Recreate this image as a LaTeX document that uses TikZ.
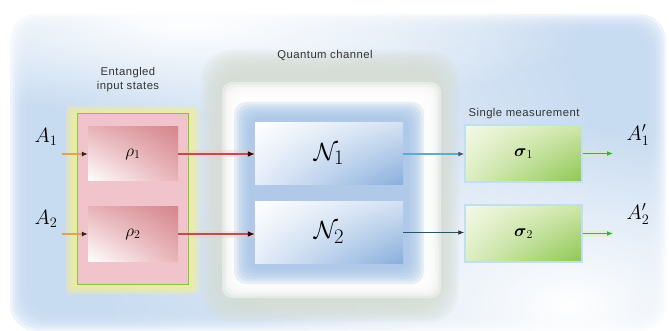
\documentclass[tikz,border=0pt]{standalone}
\usepackage{amsmath}
\usepackage{fontspec}
\newfontfamily\lblfont[LetterSpace=4]{Liberation Sans}
\usetikzlibrary{arrows.meta,shadings,fadings}
\definecolor{bgblue}{HTML}{C4DAF1}
\definecolor{qcgrey}{HTML}{D6DDD4}
\definecolor{nglow}{HTML}{A6C4E8}
\definecolor{yglow}{HTML}{F2EE9A}
\definecolor{pinkbg}{HTML}{F0C4CA}
\definecolor{gline}{HTML}{86C24E}
\definecolor{txt}{HTML}{333333}
\definecolor{rhoA}{HTML}{D4868D}
\definecolor{rhoB}{HTML}{E8B4B8}
\definecolor{nA}{HTML}{88AEDC}
\definecolor{nB}{HTML}{D2E1F3}
\definecolor{sA}{HTML}{8CC650}
\definecolor{sB}{HTML}{CFE6A8}
\definecolor{sC}{HTML}{F4F9E8}
\tikzfading[name=radfade, inner color=transparent!0, outer color=transparent!100]
\newcommand\softglow[8]{%
  \foreach \k in {0,...,#6}{%
    \fill[#5, opacity=#8, rounded corners=#7] ({#1+\k*2.5},{#2+\k*2.5}) rectangle ({#3-\k*2.5},{#4-\k*2.5});}}
\begin{document}
\begin{tikzpicture}[x=1pt,y=-1pt,
  rhobox/.style={minimum width=90pt, minimum height=54pt, inner sep=0pt,
    upper left=rhoB, upper right=rhoA, lower left=white, lower right=rhoB},
  nbox/.style={minimum width=148pt, minimum height=62pt, inner sep=0pt,
    upper left=white, upper right=nB, lower left=nB!60!white, lower right=nA},
  sbox/.style={minimum width=117pt, minimum height=57pt, inner sep=0pt, draw={rgb,255:red,192;green,224;blue,238}, line width=1.5pt,
    upper left=sC, upper right=sB, lower left=sB!70!white, lower right=sA},
  lbl/.style={text=txt, font=\lblfont\fontsize{11.3}{14}\selectfont, align=center},
  mathlbl/.style={font=\fontsize{22}{24}\selectfont},
  inarrow/.style={draw={rgb,255:red,230;green,160;blue,80}, line width=1.6pt, -{Latex[length=6pt,width=5pt,color=black!85]}},
  rnarrow/.style={draw={rgb,255:red,185;green,80;blue,80}, line width=2.2pt, -{Latex[length=7pt,width=6pt,color=black!80!red]}},
  ns1arrow/.style={draw={rgb,255:red,90;green,172;blue,208}, line width=1.8pt, -{Latex[length=6pt,width=5pt,color=black!70!cyan]}},
  ns2arrow/.style={draw={rgb,255:red,40;green,85;blue,100}, line width=1.6pt, -{Latex[length=6pt,width=5pt,color=black!90!cyan]}},
  outarrow/.style={draw={rgb,255:red,60;green,176;blue,67}, line width=1.8pt, -{Latex[length=6pt,width=5pt]}},
  glowline/.style={line width=7pt, opacity=0.35}
]
\useasboundingbox (0,0) rectangle (669,331);
\fill[white] (0,0) rectangle (669,331);
% background panel
\softglow{10}{14}{666}{331}{bgblue}{7}{26}{0.28}
\begin{scope}
\clip (0,0) rectangle (669,331);
\fill[white, path fading=radfade] (570,305) ellipse (320 and 180);
\fill[white, path fading=radfade] (190,25) ellipse (400 and 90);
\fill[white, path fading=radfade, opacity=0.5] (330,170) ellipse (280 and 260);
\end{scope}
% quantum channel region
\softglow{201}{50}{459}{322}{qcgrey}{9}{30}{0.2}
\softglow{222}{82}{441}{298}{white}{5}{10}{0.4}
\softglow{234}{102}{424}{284}{nglow}{6}{12}{0.25}
% entangled container
\softglow{66}{106}{199}{294}{yglow}{3}{4}{0.4}
\fill[pinkbg] (77,113) rectangle (188,284);
\draw[gline, line width=0.9pt] (77,113) rectangle (188,284);
% boxes
\node[rhobox] (r1) at (133,154) {\fontsize{17}{19}\selectfont$\rho_1$};
\node[rhobox] (r2) at (133,234) {\fontsize{17}{19}\selectfont$\rho_2$};
\node[nbox] (n1) at (329,154) {\fontsize{30}{32}\selectfont$\mathcal{N}_1$};
\node[nbox] (n2) at (329,232.5) {\fontsize{30}{32}\selectfont$\mathcal{N}_2$};
\node[sbox] (s1) at (523.5,153.5) {\fontsize{17}{19}\selectfont$\boldsymbol{\sigma}_1$};
\node[sbox] (s2) at (523.5,233.5) {\fontsize{17}{19}\selectfont$\boldsymbol{\sigma}_2$};
% labels
\node[lbl] (ent) at (128,80) {Entangled\\input states};
\node[lbl] (qc) at (325,55) {Quantum channel};
\node[lbl] (sm) at (524,114) {Single measurement};
\node[mathlbl] (a1) at (46,137) {$A_1$};
\node[mathlbl] (a2) at (46,219) {$A_2$};
\node[mathlbl] (b1) at (638,135) {$A'_1$};
\node[mathlbl] (b2) at (638,214) {$A'_2$};
% free ends
\coordinate (i1) at (62,154);
\coordinate (i2) at (62,234);
\coordinate (o1) at (613,153.5);
\coordinate (o2) at (613,233.5);
% glows under arrows
\draw[glowline, red!25] (r1.east) -- (r1.east -| n1.west);
\draw[glowline, red!25] (r2.east) -- (r2.east -| n2.west);
\draw[glowline, yellow!50!green!30] (s1.east) -- (o1);
\draw[glowline, yellow!50!green!30] (s2.east) -- (o2);
% arrows
\draw[inarrow] (i1) -- (r1.west);
\draw[inarrow] (i2) -- (r2.west);
\draw[rnarrow] (r1.east) -- (r1.east -| n1.west);
\draw[rnarrow] (r2.east) -- (r2.east -| n2.west);
\draw[ns1arrow] (n1.east) -- (n1.east -| s1.west);
\draw[ns2arrow] (n2.east) -- (n2.east -| s2.west);
\draw[outarrow] (s1.east) -- (o1);
\draw[outarrow] (s2.east) -- (o2);
\end{tikzpicture}
\end{document}
